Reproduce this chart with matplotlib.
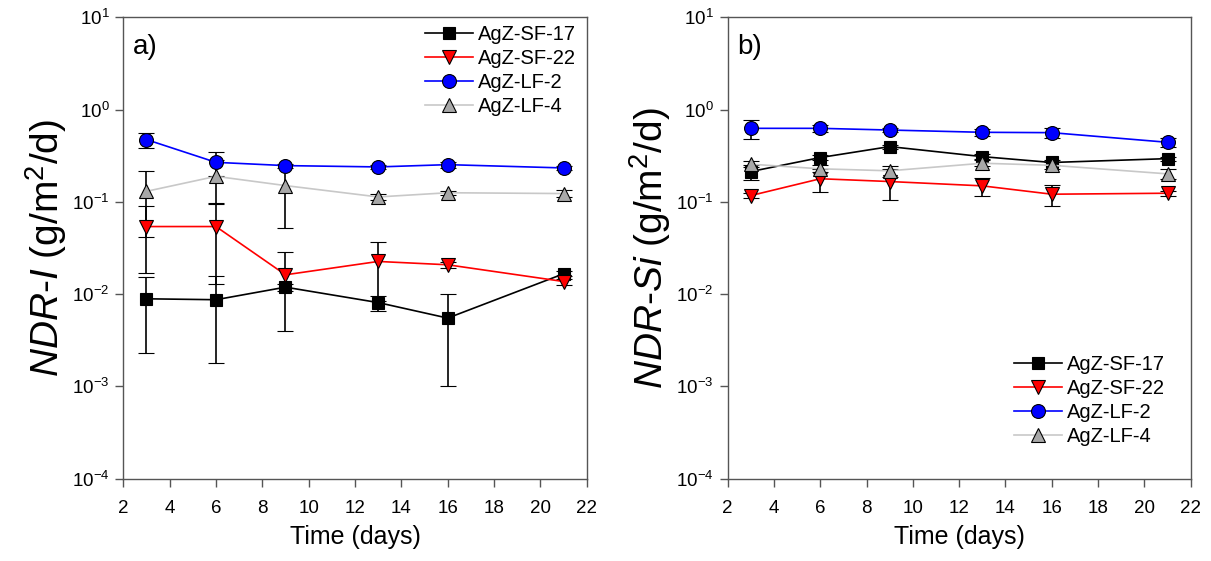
import math
import matplotlib
matplotlib.use("Agg")
import matplotlib.pyplot as plt
from matplotlib.ticker import FixedLocator, FuncFormatter, NullLocator

###### DATA ######

days = [3, 6, 9, 13, 16, 21]
series_names = ["AgZ-SF-17", "AgZ-SF-22", "AgZ-LF-2", "AgZ-LF-4"]

# panel a) NDR-I
sf17_i = [0.0089, 0.0087, 0.0119, 0.0081, 0.0055, 0.0166]
sf17_i_err = [0.0066, 0.0069, 0.0010, 0.0015, 0.0045, 0.0010]
sf22_i = [0.054, 0.054, 0.0162, 0.0226, 0.0208, 0.0137]
sf22_i_err = [0.037, 0.041, 0.0122, 0.0141, 0.0015, 0.0010]
lf2_i = [0.473, 0.268, 0.247, 0.239, 0.253, 0.233]
lf2_i_err = [0.090, 0.076, 0.012, 0.012, 0.020, 0.010]
lf4_i = [0.130, 0.189, 0.150, 0.113, 0.1255, 0.123]
lf4_i_err = [0.088, 0.092, 0.098, 0.008, 0.006, 0.010]

# panel b) NDR-Si
sf17_si = [0.213, 0.302, 0.397, 0.309, 0.267, 0.294]
sf17_si_err = [0.040, 0.020, 0.020, 0.020, 0.015, 0.015]
sf22_si = [0.117, 0.178, 0.166, 0.149, 0.121, 0.124]
sf22_si_err = [0.008, 0.050, 0.061, 0.034, 0.030, 0.008]
lf2_si = [0.626, 0.626, 0.600, 0.567, 0.562, 0.442]
lf2_si_err = [0.150, 0.060, 0.030, 0.050, 0.070, 0.050]
lf4_si = [0.256, 0.228, 0.217, 0.262, 0.249, 0.201]
lf4_si_err = [0.020, 0.020, 0.030, 0.020, 0.020, 0.025]

x_ticks = [2, 4, 6, 8, 10, 12, 14, 16, 18, 20, 22]
y_ticks = [1e-4, 1e-3, 1e-2, 1e-1, 1e0, 1e1]

###### STYLE ######

plt.rcParams['font.family'] = ['Liberation Sans', 'DejaVu Sans']
plt.rcParams['mathtext.fontset'] = 'custom'
plt.rcParams['mathtext.rm'] = 'Liberation Sans'
plt.rcParams['mathtext.it'] = 'Liberation Sans:italic'
plt.rcParams['mathtext.default'] = 'regular'
plt.rcParams['axes.unicode_minus'] = False

styles = [
    dict(color='black', marker='s', mfc='black', mec='black', ms=8),
    dict(color='#ff0000', marker='v', mfc='#ff0000', mec='black', ms=10),
    dict(color='#0000ff', marker='o', mfc='#0000ff', mec='black', ms=10),
    dict(color='#c8c8c8', marker='^', mfc='#a8a8a8', mec='black', ms=10),
]
spine_color = '#555555'


def draw_panel(ax, values, errors, ylabel, tag, legend_xy):
    handles = []
    for name, y, e, st in zip(series_names, values, errors, styles):
        cont = ax.errorbar(days, y, yerr=e, label=name, lw=1.2, mew=0.8,
                           ecolor='black', elinewidth=1.2, capsize=5.5,
                           capthick=1.2, **st)
        handles.append(cont[0])  # line + marker only for the legend
    ax.set_yscale('log')
    ax.set_ylim(1e-4, 1e1)
    ax.set_xlim(2, 22)
    ax.xaxis.set_major_locator(FixedLocator(x_ticks))
    ax.yaxis.set_major_locator(FixedLocator(y_ticks))
    ax.yaxis.set_minor_locator(NullLocator())
    ax.yaxis.set_major_formatter(FuncFormatter(
        lambda v, p: r'$10^{%d}$' % round(math.log10(v))))
    ax.tick_params(axis='both', direction='out', length=6, width=1,
                   color=spine_color, labelsize=13.5)
    ax.tick_params(axis='x', pad=9)
    ax.tick_params(axis='y', pad=4)
    for s in ax.spines.values():
        s.set_color(spine_color)
        s.set_linewidth(1)
    ax.set_xlabel('Time (days)', fontsize=18, labelpad=6)
    ax.set_ylabel(ylabel, fontsize=28, labelpad=2)
    ax.text(0.021, 0.936, tag, transform=ax.transAxes, fontsize=20,
            va='center', ha='left')
    ax.legend(handles, series_names, loc='upper left',
              bbox_to_anchor=legend_xy, frameon=False,
              fontsize=14.5, handlelength=2.4, handletextpad=0.25,
              labelspacing=0.25, borderpad=0, borderaxespad=0)


###### FIGURE ######

fig = plt.figure(figsize=(12.11, 5.61), dpi=100)
ax1 = fig.add_axes([0.1018, 0.1467, 0.3827, 0.8225])
ax2 = fig.add_axes([0.6009, 0.1467, 0.3823, 0.8225])

draw_panel(ax1, [sf17_i, sf22_i, lf2_i, lf4_i],
           [sf17_i_err, sf22_i_err, lf2_i_err, lf4_i_err],
           r'$\mathit{NDR}$-$\mathit{I}$ (g/m$^2$/d)', 'a)', (0.651, 0.983))
draw_panel(ax2, [sf17_si, sf22_si, lf2_si, lf4_si],
           [sf17_si_err, sf22_si_err, lf2_si_err, lf4_si_err],
           r'$\mathit{NDR}$-$\mathit{Si}$ (g/m$^2$/d)', 'b)', (0.618, 0.268))

fig.savefig('out.png', dpi=100)
